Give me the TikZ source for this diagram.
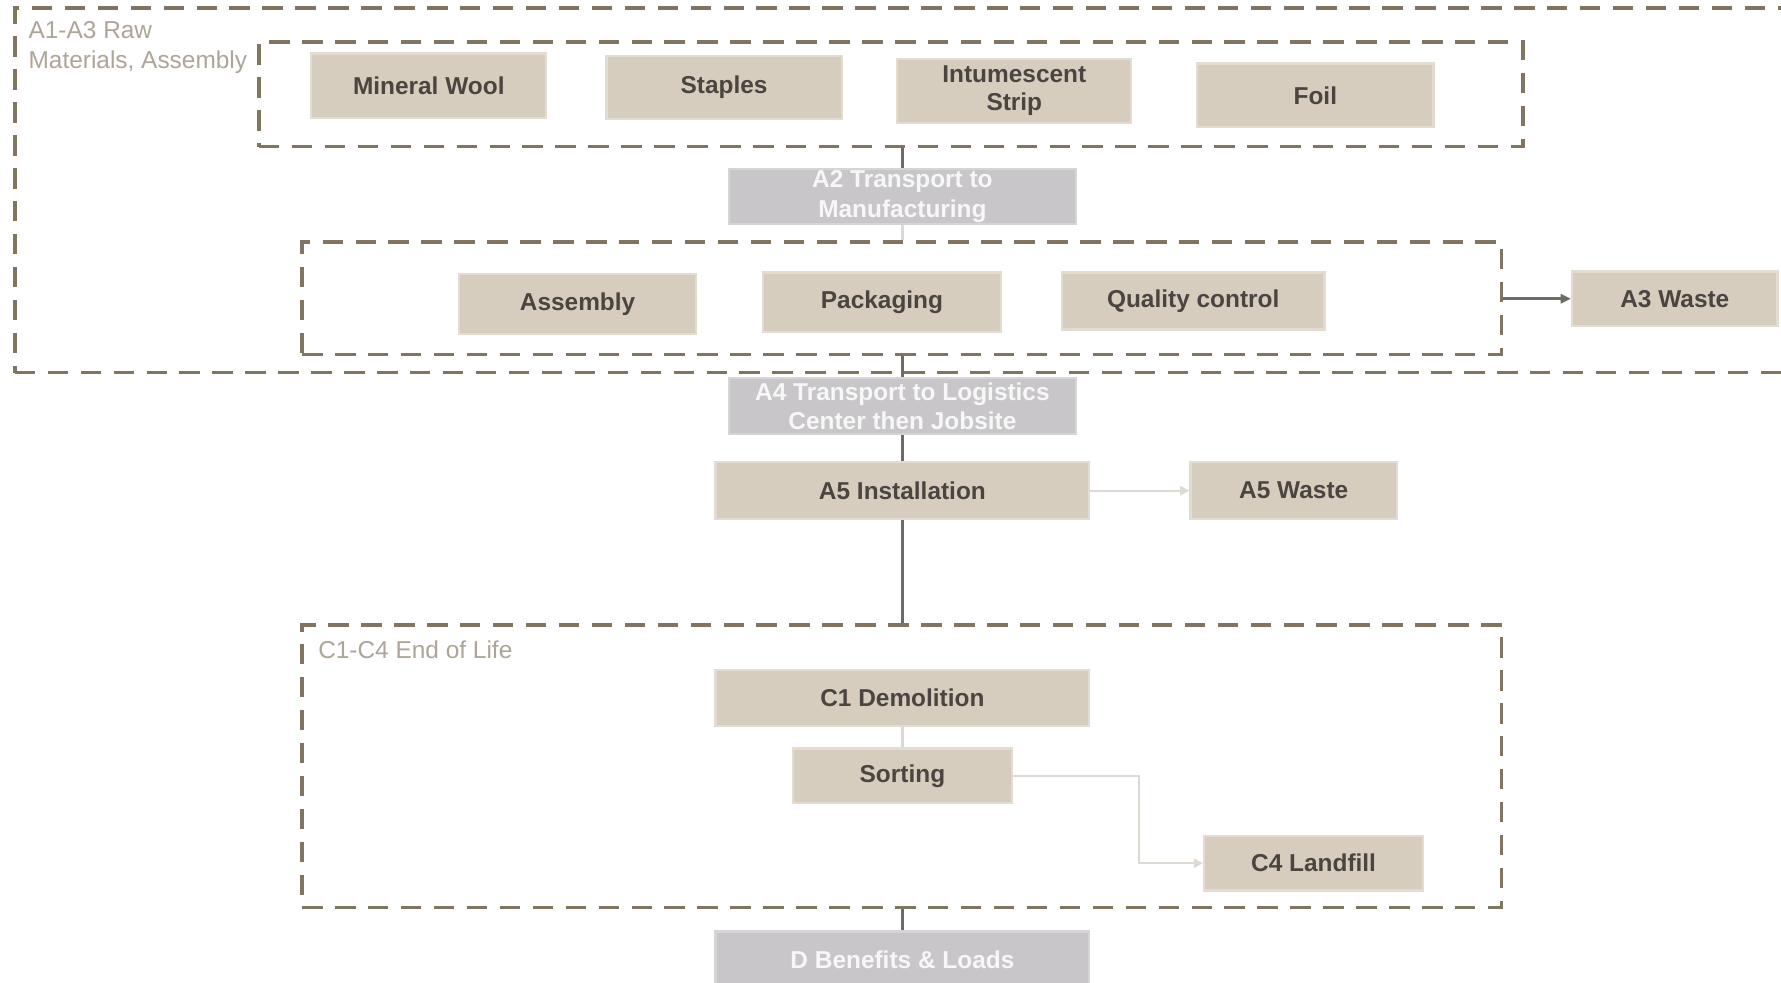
\documentclass[tikz,border=0pt]{standalone}
\usepackage{fontspec}
\setmainfont{Liberation Sans}
\usetikzlibrary{arrows.meta}
\definecolor{dashc}{HTML}{7F7561}
\definecolor{boxfill}{HTML}{D6CDBE}
\definecolor{boxedge}{HTML}{E2DCD2}
\definecolor{boxtext}{HTML}{4A4541}
\definecolor{grayfill}{HTML}{C8C6C9}
\definecolor{grayedge}{HTML}{D6D4D6}
\definecolor{labc}{HTML}{ADA597}
\definecolor{darkline}{HTML}{6E6A66}
\definecolor{lightline}{HTML}{DEDAD3}
\tikzset{
  grp/.style={draw=dashc, line width=3.2pt, dash pattern=on 18pt off 11pt, inner sep=0pt},
  proc/.style={fill=boxfill, draw=boxedge, line width=2pt, inner sep=0pt, align=center,
    text=boxtext, font=\fontsize{21.5}{25}\selectfont\bfseries},
  gproc/.style={fill=grayfill, draw=grayedge, line width=2pt, inner sep=0pt, align=center,
    text=white!94!gray, font=\fontsize{21.5}{26}\selectfont\bfseries},
  grplabel/.style={text=labc, align=left, inner sep=0pt, font=\fontsize{21.5}{26}\selectfont},
  darkc/.style={draw=darkline, line width=3pt},
  lightc/.style={draw=lightline, line width=2pt}
}
\begin{document}
\begin{tikzpicture}[x=1pt,y=-1pt]
\useasboundingbox[fill=white] (0,0) rectangle (1568,865);
% group boxes
\node[grp, minimum width=1567pt, minimum height=321pt] (outer) at (796.5,167.5) {};
\node[grp, minimum width=1113pt, minimum height=92pt] (g1) at (784.5,83) {};
\node[grp, minimum width=1056pt, minimum height=99pt] (g2) at (794,262.5) {};
\node[grp, minimum width=1056pt, minimum height=249pt] (gc) at (794,674.5) {};
\node[grplabel, anchor=north west] (lab1) at (25,19) {A1-A3 Raw\\Materials, Assembly};
\node[grplabel, anchor=west] (lab2) at (280,572) {C1-C4 End of Life};
% nodes
\node[proc, minimum width=207pt, minimum height=57pt] (mw) at (377.5,75.5) {Mineral Wool};
\node[proc, minimum width=207pt, minimum height=56pt] (st) at (637.5,77) {Staples};
\node[proc, minimum width=206pt, minimum height=56pt] (is) at (893,80) {Intumescent\\Strip};
\node[proc, minimum width=208pt, minimum height=56pt] (fo) at (1158,84) {Foil};
\node[gproc, minimum width=305pt, minimum height=48pt] (a2) at (794.5,173) {A2 Transport to\\Manufacturing};
\node[proc, minimum width=209pt, minimum height=53pt] (as) at (508.5,267.5) {Assembly};
\node[proc, minimum width=209pt, minimum height=52pt] (pk) at (776.5,266) {Packaging};
\node[proc, minimum width=231pt, minimum height=50pt] (qc) at (1050.5,265) {Quality control};
\node[proc, minimum width=181pt, minimum height=48pt] (a3w) at (1474.5,263) {A3 Waste};
\node[gproc, minimum width=305pt, minimum height=49pt] (a4) at (794.5,357.5) {A4 Transport to Logistics\\Center then Jobsite};
\node[proc, minimum width=329pt, minimum height=50pt] (a5) at (794.5,432) {A5 Installation};
\node[proc, minimum width=182pt, minimum height=50pt] (a5w) at (1139,432) {A5 Waste};
\node[proc, minimum width=329pt, minimum height=49pt] (c1) at (794.5,614.5) {C1 Demolition};
\node[proc, minimum width=193pt, minimum height=48pt] (so) at (794.5,683) {Sorting};
\node[proc, minimum width=193pt, minimum height=48pt] (c4) at (1156.5,760) {C4 Landfill};
\node[gproc, minimum width=329pt, minimum height=50pt] (d) at (794.5,845) {D Benefits \& Loads};
% connectors
\coordinate (bend) at (1003,683);
\draw[darkc] (a2.north |- g1.south) -- (a2.north);
\draw[lightc] (a2.south) -- (a2.south |- g2.north);
\draw[darkc] (a4.north |- g2.south) -- (a4.north);
\draw[darkc] (a4.south) -- (a5.north);
\draw[darkc] (a5.south) -- (a5.south |- gc.north);
\draw[lightc] (c1.south) -- (so.north);
\draw[darkc] (d.north |- gc.south) -- (d.north);
\draw[darkc, -{Triangle[length=9pt,width=8pt]}] (g2.east |- a3w.west) -- (a3w.west);
\draw[lightc, -{Triangle[length=8pt,width=8pt]}] (a5.east) -- (a5w.west);
\draw[lightc, -{Triangle[length=8pt,width=8pt]}] (so.east) -- (bend) |- (c4.west);
\end{tikzpicture}
\end{document}
